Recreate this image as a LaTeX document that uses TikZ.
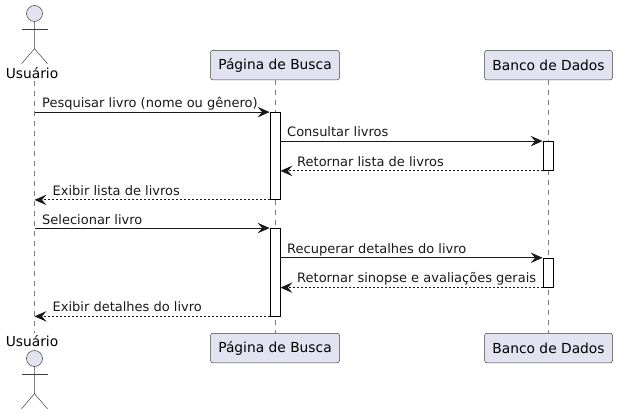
\documentclass[tikz,border=0pt]{standalone}
\usepackage{fontspec}
\setmainfont{DejaVu Sans}
\usetikzlibrary{arrows.meta}
\definecolor{partfill}{HTML}{E2E2F0}
\definecolor{partline}{HTML}{404040}

\begin{document}
\begin{tikzpicture}[
    x=1pt,
    y=-1pt,
    participant/.style={
        rectangle,
        rounded corners=2.5pt,
        minimum width=129pt,
        minimum height=29.5pt,
        inner sep=0pt,
        align=center,
        draw=partline,
        line width=0.5pt,
        fill=partfill,
        font=\fontsize{13.8}{16}\selectfont
    },
    banco/.style={participant, minimum width=128pt},
    acthead/.style={
        circle,
        minimum size=16pt,
        inner sep=0pt,
        draw=partline,
        line width=0.5pt,
        fill=partfill
    },
    actname/.style={
        inner sep=0pt,
        font=\fontsize{13.8}{16}\selectfont
    },
    actbody/.style={draw=partline, line width=0.5pt},
    activation/.style={
        rectangle,
        minimum width=10pt,
        inner sep=0pt,
        draw=black,
        line width=0.8pt,
        fill=white
    },
    lifeline/.style={draw=partline!70, line width=0.5pt, dash pattern=on 5pt off 5pt},
    msglabel/.style={
        anchor=base west,
        inner sep=0pt,
        text=black!90,
        font=\fontsize{13}{15}\selectfont
    },
    msg/.style={line width=0.9pt, draw=black!90, -{Stealth[length=12pt,width=10.5pt,inset=4.5pt]}},
    ret/.style={msg, dash pattern=on 2pt off 2pt}
]
\useasboundingbox (0,0) rectangle (617,414);

% participants, top and bottom
\node (pag) [participant] at (275,65.2) {Página de Busca};
\node (ban) [banco] at (548.5,65.2) {Banco de Dados};
\node (pagb) [participant] at (275,348) {Página de Busca};
\node (banb) [banco] at (548.5,348) {Banco de Dados};

\node (usr) [actname] at (32,73) {Usuário};
\node (usrb) [actname] at (32,341.5) {Usuário};

% lifelines
\coordinate (life1) at (34.5,81);
\coordinate (life1b) at (34.5,333);
\draw [lifeline] (life1) -- (life1b);
\draw [lifeline] (pag.south) -- (pagb.north);
\draw [lifeline] (ban.south) -- (banb.north);

% actor figures
\node (head) [acthead] at (34.5,13.5) {};
\draw [actbody] (head.south) -- ++(0,27) coordinate (hip) -- ++(-13,15);
\draw [actbody] (hip) -- ++(13,15);
\draw [actbody] (21.5,29) -- (47.5,29);

\node (headb) [acthead] at (34.5,358.5) {};
\draw [actbody] (headb.south) -- ++(0,27) coordinate (hipb) -- ++(-13,15);
\draw [actbody] (hipb) -- ++(13,15);
\draw [actbody] (21.5,374) -- (47.5,374);

% activations
\node (act1) [activation, minimum height=87pt] at (275,156) {};
\node (act2) [activation, minimum height=29pt] at (548,156) {};
\node (act3) [activation, minimum height=87.5pt] at (275,272.2) {};
\node (act4) [activation, minimum height=29pt] at (548,272.7) {};

% free ends on the user's lifeline
\coordinate (u1) at (life1 |- act1.north);
\coordinate (u2) at (life1 |- act1.south);
\coordinate (u3) at (life1 |- act3.north);
\coordinate (u4) at (life1 |- act3.south);

% messages
\draw [msg] (u1) -- (act1.north west);
\draw [msg] (act1.east |- act2.north) -- (act2.north west);
\draw [ret] (act2.south west) -- (act1.east |- act2.south);
\draw [ret] (act1.south west) -- (u2);
\draw [msg] (u3) -- (act3.north west);
\draw [msg] (act3.east |- act4.north) -- (act4.north west);
\draw [ret] (act4.south west) -- (act3.east |- act4.south);
\draw [ret] (act3.south west) -- (u4);

\node (m1) [msglabel] at (42,108) {Pesquisar livro (nome ou gênero)};
\node (m2) [msglabel] at (287,136.5) {Consultar livros};
\node (m3) [msglabel] at (297,166) {Retornar lista de livros};
\node (m4) [msglabel] at (52.5,195) {Exibir lista de livros};
\node (m5) [msglabel] at (42,224) {Selecionar livro};
\node (m6) [msglabel] at (287,253) {Recuperar detalhes do livro};
\node (m7) [msglabel] at (297,282) {Retornar sinopse e avaliações gerais};
\node (m8) [msglabel] at (52.5,311) {Exibir detalhes do livro};

\end{tikzpicture}
\end{document}
